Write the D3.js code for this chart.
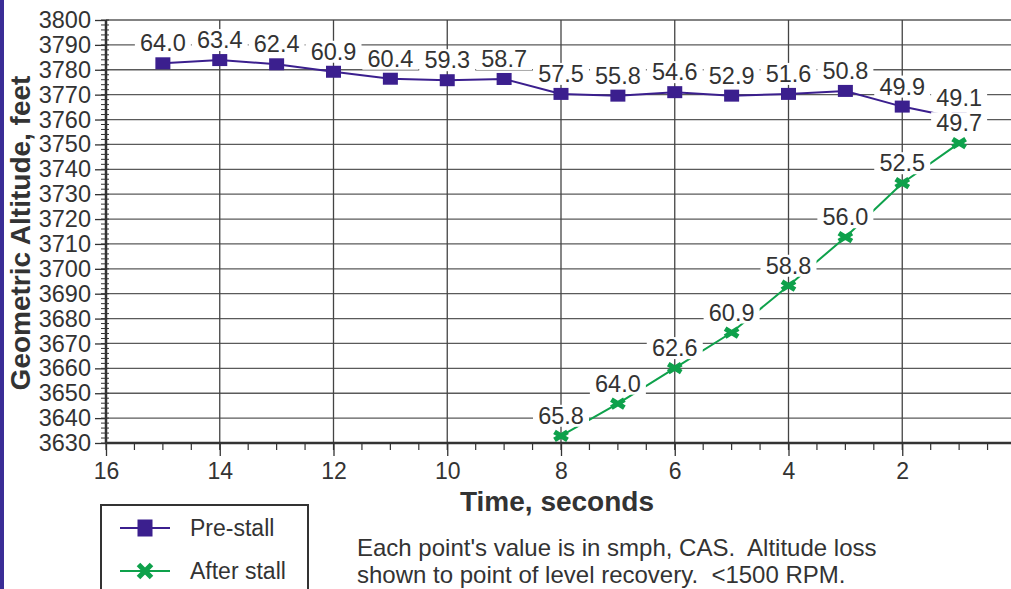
<!DOCTYPE html>
<html>
<head>
<meta charset="utf-8">
<script src="https://cdn.jsdelivr.net/npm/d3@7"></script>
<style>
    body { margin: 0; background: #fff; }
    svg { display: block; font-family: "Liberation Sans", Arial, Helvetica, sans-serif; }
    .note { white-space: pre; }
</style>
</head>
<body>
<div id="chart"></div>
<script>
// time before recovery (seconds) and geometric altitude (feet)
const preTime = [15, 14, 13, 12, 11, 10, 9, 8, 7, 6, 5, 4, 3, 2, 1];
const preAlt = [3782.6, 3783.9, 3782.2, 3779.2, 3776.4, 3775.8, 3776.3, 3770.3, 3769.6, 3771.0, 3769.6, 3770.3, 3771.5, 3765.2, 3760.5];
const preSpeed = ["64.0", "63.4", "62.4", "60.9", "60.4", "59.3", "58.7", "57.5", "55.8", "54.6", "52.9", "51.6", "50.8", "49.9", "49.1"];

const postTime = [8, 7, 6, 5, 4, 3, 2, 1];
const postAlt = [3632.9, 3645.8, 3660.1, 3674.4, 3693.2, 3712.7, 3734.4, 3750.5];
const postSpeed = ["65.8", "64.0", "62.6", "60.9", "58.8", "56.0", "52.5", "49.7"];

const xTicks = [16, 14, 12, 10, 8, 6, 4, 2];
const yTicks = d3.range(3630, 3801, 10);

const noteLines = ["Each point's value is in smph, CAS.  Altitude loss",
                   "shown to point of level recovery.  <1500 RPM."];

class stallChart {
    constructor(parentElement) {
        this.parentElement = parentElement;
        this.purple = "#3b1f8e";
        this.green = "#0ea14b";
        this.ink = "#333";
        this.initVis();
    }

    initVis() {
        let vis = this;
        vis.width = 1011;
        vis.height = 589;

        vis.svg = d3.select("#" + vis.parentElement).append("svg")
            .attr("width", vis.width)
            .attr("height", vis.height);

        // purple strip on the left edge
        vis.svg.append("rect")
            .attr("x", 0).attr("y", 0)
            .attr("width", 4).attr("height", vis.height)
            .attr("fill", "#3a2d96");

        vis.x = d3.scaleLinear().domain([16, 0]).range([106, 1016]);
        vis.y = d3.scaleLinear().domain([3630, 3800]).range([443, 20]);

        vis.series = [
            {name: "Pre-stall", color: vis.purple, shape: "square",
             data: preTime.map((t, i) => ({t: t, alt: preAlt[i], label: preSpeed[i]}))},
            {name: "After stall", color: vis.green, shape: "cross",
             data: postTime.map((t, i) => ({t: t, alt: postAlt[i], label: postSpeed[i]}))}
        ];

        vis.drawGrid();
        vis.drawAxes();
        vis.drawSeries();
        vis.drawLegend();
    }

    drawGrid() {
        let vis = this;
        let grid = vis.svg.append("g").attr("class", "grid");

        grid.selectAll(".hline")
            .data(yTicks)
            .enter().append("line")
            .attr("x1", vis.x(16)).attr("x2", vis.width)
            .attr("y1", d => vis.y(d)).attr("y2", d => vis.y(d))
            .attr("stroke", "#5a5a5a")
            .attr("stroke-width", 1.3);

        grid.selectAll(".vline")
            .data(xTicks.slice(1))
            .enter().append("line")
            .attr("x1", d => vis.x(d)).attr("x2", d => vis.x(d))
            .attr("y1", vis.y(3800)).attr("y2", vis.y(3630))
            .attr("stroke", "#444")
            .attr("stroke-width", 1.3);
    }

    drawAxes() {
        let vis = this;

        // x axis: major ticks every 2 s, minor every 0.5 s
        vis.xAxis = d3.axisBottom(vis.x)
            .tickValues(xTicks)
            .tickSize(13)
            .tickPadding(7)
            .tickFormat(d3.format("d"));

        let xg = vis.svg.append("g")
            .attr("class", "x-axis axis")
            .attr("transform", "translate(0," + vis.y(3630) + ")");

        xg.selectAll(".minor")
            .data(d3.range(16, -0.1, -0.5))
            .enter().append("line")
            .attr("x1", d => vis.x(d)).attr("x2", d => vis.x(d))
            .attr("y1", 0).attr("y2", 7)
            .attr("stroke", vis.ink).attr("stroke-width", 1.2);

        xg.call(vis.xAxis);
        xg.select(".domain").remove();
        xg.append("line")
            .attr("x1", vis.x(16) - 1).attr("x2", vis.width)
            .attr("stroke", vis.ink).attr("stroke-width", 2.5);
        xg.selectAll(".tick line").attr("stroke", vis.ink).attr("stroke-width", 1.3);
        xg.selectAll(".tick text")
            .attr("fill", vis.ink)
            .style("font-size", "23px");

        // y axis: major ticks every 10 ft, minor every 2 ft
        vis.yAxis = d3.axisLeft(vis.y)
            .tickValues(yTicks)
            .tickSize(11)
            .tickPadding(4)
            .tickFormat(d3.format("d"));

        let yg = vis.svg.append("g")
            .attr("class", "y-axis axis")
            .attr("transform", "translate(" + vis.x(16) + ",0)");

        yg.selectAll(".minor")
            .data(d3.range(3630, 3801, 2))
            .enter().append("line")
            .attr("x1", -5).attr("x2", 3)
            .attr("y1", d => vis.y(d)).attr("y2", d => vis.y(d))
            .attr("stroke", vis.ink).attr("stroke-width", 1);

        yg.call(vis.yAxis);
        yg.select(".domain").remove();
        yg.append("line")
            .attr("y1", vis.y(3800)).attr("y2", vis.y(3630) + 1)
            .attr("stroke", vis.ink).attr("stroke-width", 2.5);
        yg.selectAll(".tick line").attr("stroke", vis.ink).attr("stroke-width", 1.3);
        yg.selectAll(".tick text")
            .attr("fill", vis.ink)
            .style("font-size", "23.5px");

        // axis titles
        vis.svg.append("text")
            .attr("x", 557).attr("y", 511)
            .attr("text-anchor", "middle")
            .attr("fill", vis.ink)
            .style("font-size", "28px")
            .style("font-weight", "bold")
            .text("Time, seconds");

        vis.svg.append("text")
            .attr("transform", "translate(30,233) rotate(-90)")
            .attr("text-anchor", "middle")
            .attr("fill", vis.ink)
            .style("font-size", "28px")
            .style("font-weight", "bold")
            .text("Geometric Altitude, feet");

        // note under the chart
        vis.svg.append("g")
            .selectAll("text")
            .data(noteLines)
            .enter().append("text")
            .attr("class", "note")
            .attr("x", 357)
            .attr("y", (d, i) => 556 + i * 27)
            .attr("fill", vis.ink)
            .style("font-size", "24px")
            .text(d => d);
    }

    marker(sel, shape, color, w, h) {
        if (shape === "square") {
            sel.append("rect")
                .attr("x", -w / 2).attr("y", -h / 2)
                .attr("width", w).attr("height", h)
                .attr("fill", color);
        } else {
            let a = w / 2 - 2.5, b = h / 2 - 2;
            sel.append("path")
                .attr("d", `M${-a},${-b}L${a},${b}M${-a},${b}L${a},${-b}`)
                .attr("stroke", color)
                .attr("stroke-width", 5)
                .attr("fill", "none");
        }
    }

    drawSeries() {
        let vis = this;

        let line = d3.line()
            .x(d => vis.x(d.t))
            .y(d => vis.y(d.alt));

        vis.series.forEach(s => {
            vis.svg.append("path")
                .datum(s.data)
                .attr("d", line)
                .attr("fill", "none")
                .attr("stroke", s.color)
                .attr("stroke-width", 2);

            vis.svg.selectAll(".pt-" + s.shape)
                .data(s.data)
                .enter().append("g")
                .attr("class", "pt-" + s.shape)
                .attr("transform", d => "translate(" + vis.x(d.t) + "," + vis.y(d.alt) + ")")
                .each(function () {
                    vis.marker(d3.select(this), s.shape, s.color, s.shape === "square" ? 15 : 18, 12);
                });
        });

        // value labels sit on white boxes, above their point
        vis.series.forEach(s => {
            let lab = vis.svg.selectAll(".lab-" + s.shape)
                .data(s.data)
                .enter().append("g")
                .attr("class", "lab-" + s.shape)
                .attr("transform", d => "translate(" + vis.x(d.t) + "," + (vis.y(d.alt) - 20) + ")");

            lab.append("rect")
                .attr("x", -28).attr("y", -11)
                .attr("width", 56).attr("height", 22)
                .attr("fill", "#fff");

            lab.append("text")
                .attr("text-anchor", "middle")
                .attr("y", 8)
                .attr("fill", vis.ink)
                .style("font-size", "23.5px")
                .text(d => d.label);
        });
    }

    drawLegend() {
        let vis = this;

        let legend = vis.svg.append("g").attr("class", "legend");
        legend.append("rect")
            .attr("x", 101).attr("y", 505)
            .attr("width", 207).attr("height", 100)
            .attr("fill", "#fff")
            .attr("stroke", vis.ink)
            .attr("stroke-width", 2);

        let item = legend.selectAll(".item")
            .data(vis.series)
            .enter().append("g")
            .attr("class", "item")
            .attr("transform", (d, i) => "translate(145," + (528 + i * 43) + ")");

        item.append("line")
            .attr("x1", -25).attr("x2", 25)
            .attr("stroke", d => d.color)
            .attr("stroke-width", 2);

        item.each(function (d) {
            vis.marker(d3.select(this), d.shape, d.color, d.shape === "square" ? 15 : 18, 17);
        });

        item.append("text")
            .attr("x", 45).attr("y", 8)
            .attr("fill", vis.ink)
            .style("font-size", "23px")
            .text(d => d.name);
    }
}

new stallChart("chart");
</script>
</body>
</html>
